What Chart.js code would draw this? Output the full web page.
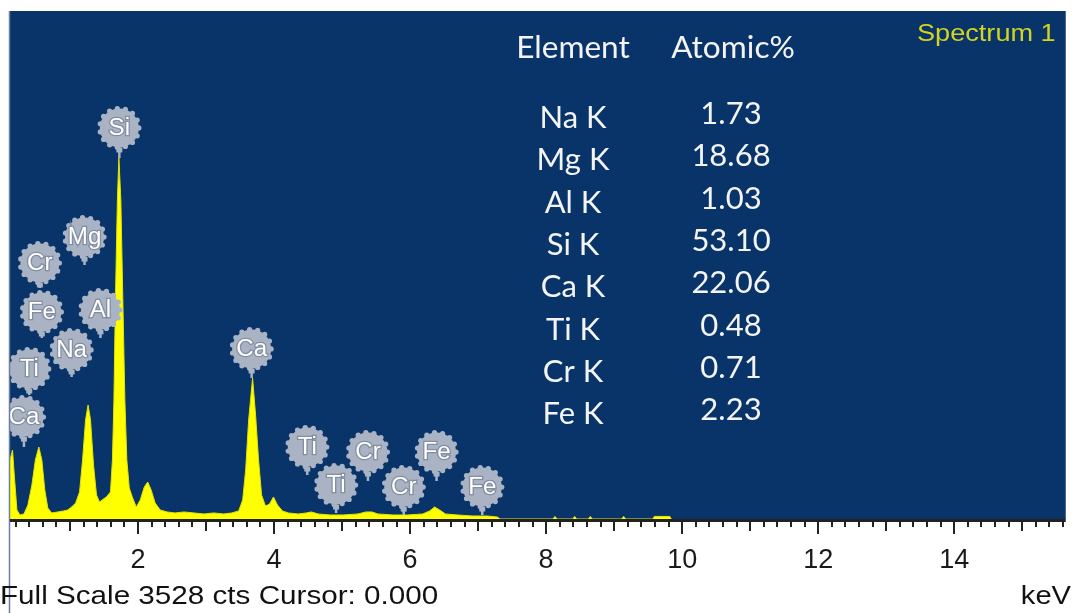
<!DOCTYPE html>
<html>
<head>
<meta charset="utf-8">
<script src="https://cdn.jsdelivr.net/npm/chart.js@4/dist/chart.umd.min.js"></script>
<style>
  html, body { margin: 0; padding: 0; background: #ffffff; }
  #wrap { position: relative; width: 1073px; height: 613px; }
</style>
</head>
<body>
<div id="wrap"><canvas id="c" width="1073" height="613"></canvas></div>
<script>
// EDS spectrum trace: photon energy (keV) and counts per channel sample
const energyKeV = [
  0.117, 0.154, 0.183, 0.219, 0.263, 0.322, 0.380, 0.439, 0.490, 0.541,
  0.585, 0.629, 0.673, 0.731, 0.819, 0.906, 0.965, 1.023, 1.082, 1.140,
  1.184, 1.228, 1.265, 1.301, 1.345, 1.389, 1.433, 1.491, 1.535, 1.594,
  1.623, 1.645, 1.667, 1.696, 1.718, 1.747, 1.776, 1.806, 1.835, 1.871,
  1.915, 1.974, 2.032, 2.091, 2.142, 2.193, 2.251, 2.325, 2.427, 2.544,
  2.675, 2.822, 2.968, 3.114, 3.260, 3.377, 3.480, 3.538, 3.582, 3.626,
  3.684, 3.728, 3.772, 3.816, 3.874, 3.933, 3.991, 4.050, 4.123, 4.211,
  4.357, 4.474, 4.547, 4.649, 4.825, 5.015, 5.234, 5.351, 5.439, 5.526,
  5.746, 5.965, 6.184, 6.287, 6.360, 6.433, 6.520, 6.696, 6.915, 7.135,
  7.281, 7.325,
  8.10, 8.13, 8.16, 8.39, 8.42, 8.45, 8.62, 8.65, 8.68, 9.11, 9.14, 9.17,
  9.57, 9.59, 9.82, 9.84
];
const counts = [
  410, 479, 285, 63, 28, 35, 97, 236, 410, 500,
  410, 201, 76, 42, 49, 56, 63, 83, 111, 188,
  410, 688, 792, 688, 375, 167, 118, 139, 153, 188,
  410, 826, 1521, 2216, 2507, 2216, 1521, 826, 410, 215,
  153, 83, 132, 222, 257, 201, 111, 63, 49, 42,
  49, 42, 35, 42, 35, 42, 56, 132, 340, 688,
  979, 722, 410, 167, 90, 104, 153, 97, 56, 42,
  35, 42, 49, 35, 28, 28, 35, 49, 49, 35,
  28, 28, 35, 56, 83, 63, 35, 28, 21, 21,
  14, 0,
  0, 18, 0, 0, 18, 0, 0, 18, 0, 0, 18, 0,
  0, 18, 18, 0
];

// Peak identification badges: label, line energy, badge centre and stem foot (counts)
const markerLabels = ['Ca', 'Ti', 'Cr', 'Fe', 'Na', 'Mg', 'Al', 'Si', 'Ca', 'Ti', 'Ti', 'Cr', 'Cr', 'Fe', 'Fe'];
const markerKeV    = [0.322, 0.400, 0.556, 0.585, 1.023, 1.213, 1.447, 1.725, 3.670, 4.488, 4.912, 5.380, 5.906, 6.389, 7.061];
const markerCenter = [708, 1042, 1778, 1438, 1174, 1958, 1452, 2716, 1181, 500, 236, 465, 222, 465, 222];
const markerFoot   = [500, 861, 1604, 1257, 986, 1764, 1257, 2507, 979, 306, 42, 264, 28, 264, 28];

// Quantification result table
const elementLines = ['Na K', 'Mg K', 'Al K', 'Si K', 'Ca K', 'Ti K', 'Cr K', 'Fe K'];
const atomicPct    = [1.73, 18.68, 1.03, 53.10, 22.06, 0.48, 0.71, 2.23];

// Axis settings
const xTickLabels = ['2', '4', '6', '8', '10', '12', '14'];
const xRangeKeV = [0.117, 15.64];
const fullScaleCts = 3528;

const PANEL_BLUE = '#08346a';
const BADGE_GREY = '#a9b3c4';

function stretchedText(ctx, str, x, y, font, color, sx, align) {
  ctx.save();
  ctx.font = font;
  ctx.fillStyle = color;
  ctx.textBaseline = 'middle';
  ctx.textAlign = 'left';
  const w = ctx.measureText(str).width * sx;
  const left = align === 'center' ? x - w / 2 : (align === 'right' ? x - w : x);
  ctx.translate(left, y);
  ctx.scale(sx, 1);
  ctx.fillText(str, 0, 0);
  ctx.restore();
}

// Dark navy panel behind the plotting area
const panelPlugin = {
  id: 'panel',
  beforeDraw(chart) {
    const { ctx, chartArea: a } = chart;
    ctx.save();
    ctx.fillStyle = PANEL_BLUE;
    ctx.fillRect(a.left, a.top, a.right - a.left, a.bottom - a.top);
    ctx.restore();
  }
};

// Peak-label badges with stems pointing at the lines
const badgePlugin = {
  id: 'badges',
  afterDatasetsDraw(chart) {
    const { ctx, chartArea: a, scales: { x, y } } = chart;
    const R = 19.5;
    ctx.save();
    ctx.beginPath();
    ctx.rect(a.left, a.top, a.right - a.left, a.bottom - a.top);
    ctx.clip();
    markerLabels.forEach((lbl, i) => {
      const px = x.getPixelForValue(markerKeV[i]);
      const cy = y.getPixelForValue(markerCenter[i]);
      const fy = y.getPixelForValue(markerFoot[i]);
      // stem
      ctx.strokeStyle = BADGE_GREY;
      ctx.lineWidth = 2.5;
      ctx.beginPath();
      ctx.moveTo(px, cy + R);
      ctx.lineTo(px, fy);
      ctx.stroke();
      ctx.fillStyle = BADGE_GREY;
      ctx.fillRect(px - 3, cy + R, 6, 5);
      // scalloped disc
      ctx.beginPath();
      ctx.arc(px, cy, R, 0, Math.PI * 2);
      ctx.fill();
      const bumps = 15;
      for (let k = 0; k < bumps; k++) {
        const ang = k / bumps * Math.PI * 2;
        ctx.beginPath();
        ctx.arc(px + R * Math.cos(ang), cy + R * Math.sin(ang), 2.6, 0, Math.PI * 2);
        ctx.fill();
      }
      // label
      ctx.save();
      ctx.font = '23px "Liberation Sans", Arial, sans-serif';
      const sx = 1.05;
      const w = ctx.measureText(lbl).width * sx;
      ctx.translate(px - w / 2, cy + 1);
      ctx.scale(sx, 1);
      ctx.textBaseline = 'middle';
      ctx.lineWidth = 2.5;
      ctx.strokeStyle = 'rgba(125,135,155,0.85)';
      ctx.strokeText(lbl, 0, 0);
      ctx.fillStyle = '#ffffff';
      ctx.fillText(lbl, 0, 0);
      ctx.restore();
    });
    ctx.restore();
  }
};

// Axis rule with minor/major tick marks, frame edge and annotation text
const decorPlugin = {
  id: 'decor',
  afterDraw(chart) {
    const { ctx, chartArea: a, scales: { x } } = chart;
    ctx.save();
    // frame edge on the left
    ctx.strokeStyle = '#6a7ea6';
    ctx.lineWidth = 1.5;
    ctx.beginPath();
    ctx.moveTo(a.left - 0.5, a.top);
    ctx.lineTo(a.left - 0.5, 613);
    ctx.stroke();
    // axis rule
    ctx.fillStyle = '#222222';
    ctx.fillRect(a.left, a.bottom, a.right - a.left, 3);
    // tick marks
    x.ticks.forEach(t => {
      const v = Math.round(t.value * 5) / 5;
      const px = Math.round(x.getPixelForValue(v));
      let len = 5;
      if (Math.abs(v - Math.round(v)) < 1e-6) len = (Math.round(v) % 2 === 0) ? 12 : 9;
      ctx.fillRect(px - 1, a.bottom, 2, 3 + len);
    });
    // table of atomic percentages
    const white = '#f4f4f4';
    const tf = '31px Lato, "Open Sans", sans-serif';
    stretchedText(ctx, 'Element', 573, 48, tf, white, 1.02, 'center');
    stretchedText(ctx, 'Atomic%', 733, 48, tf, white, 1.02, 'center');
    elementLines.forEach((el, i) => {
      const yy = 118 + i * 42.3;
      stretchedText(ctx, el, 573, yy, tf, white, 1, 'center');
      stretchedText(ctx, atomicPct[i].toFixed(2), 731, yy - 4, tf, white, 1, 'center');
    });
    // spectrum name
    stretchedText(ctx, 'Spectrum 1', 917, 34, '24px "Liberation Sans", Arial, sans-serif', '#d4d41e', 1.13, 'left');
    // status line and unit
    stretchedText(ctx, 'Full Scale ' + fullScaleCts + ' cts Cursor: 0.000', 0, 597, '26px "Liberation Sans", Arial, sans-serif', '#111111', 1.14, 'left');
    stretchedText(ctx, 'keV', 1071, 597, '26px "Liberation Sans", Arial, sans-serif', '#111111', 1.12, 'right');
    ctx.restore();
  }
};

const points = energyKeV.map((e, i) => ({ x: e, y: counts[i] }));

new Chart(document.getElementById('c'), {
  type: 'line',
  data: {
    datasets: [{
      data: points,
      borderColor: '#e2e200',
      borderWidth: 1,
      backgroundColor: '#ffff00',
      fill: 'origin',
      pointRadius: 0,
      tension: 0
    }]
  },
  options: {
    responsive: false,
    animation: false,
    devicePixelRatio: 1,
    layout: { padding: { left: 10, right: 1, top: 11, bottom: 0 } },
    plugins: { legend: { display: false }, tooltip: { enabled: false } },
    scales: {
      x: {
        type: 'linear',
        min: xRangeKeV[0],
        max: xRangeKeV[1],
        afterBuildTicks(scale) {
          const t = [];
          for (let k = 1; k * 0.2 <= xRangeKeV[1]; k++) t.push({ value: k / 5 });
          scale.ticks = t;
        },
        afterFit(scale) { scale.height = 613 - 519; },
        border: { display: false },
        grid: { display: true, drawOnChartArea: false, drawTicks: true, tickLength: 15, color: 'rgba(0,0,0,0)' },
        ticks: {
          autoSkip: false,
          maxRotation: 0,
          padding: 10,
          color: '#1a1a1a',
          font: { family: '"Liberation Sans", Arial, sans-serif', size: 27 },
          callback(v) {
            const r = String(Math.round(v * 10) / 10);
            return xTickLabels.includes(r) ? r : '';
          }
        }
      },
      y: {
        display: false,
        min: 0,
        max: fullScaleCts
      }
    }
  },
  plugins: [panelPlugin, badgePlugin, decorPlugin]
});
</script>
</body>
</html>
